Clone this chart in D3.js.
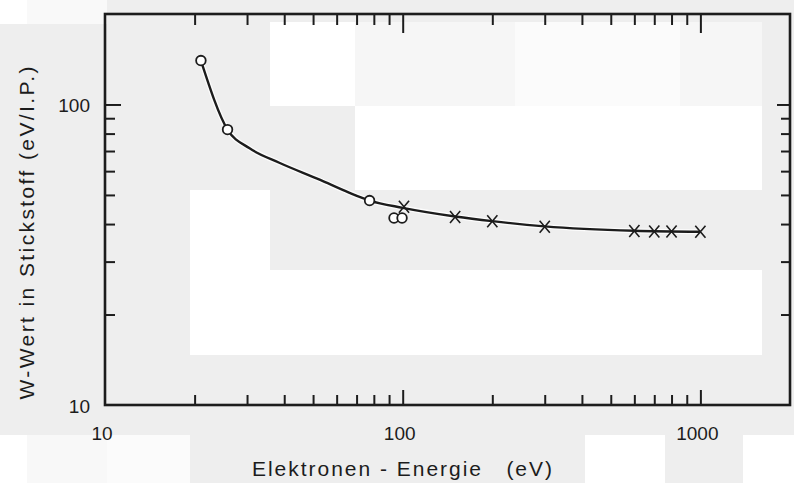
<!DOCTYPE html>
<html>
<head>
<meta charset="utf-8">
<script src="https://cdn.jsdelivr.net/npm/d3@7"></script>
<style>
  html, body { margin: 0; padding: 0; background: #eeeeee; }
  svg { display: block; }
  text { font-family: "Liberation Sans Narrow", "Liberation Sans", Arial, sans-serif; fill: #1c1c1c; }
</style>
</head>
<body>
<svg id="chart" width="794" height="483"></svg>
<script>
// Measured W-values of nitrogen versus electron energy
const circleEnergy = [21, 25.8, 77.4, 93.5, 99.5];
const circleW      = [140, 82.5, 47.9, 41.9, 41.9];

const crossEnergy = [101, 150, 200, 300, 600, 700, 800, 1000];
const crossW      = [45.7, 42.2, 40.9, 39.2, 37.9, 37.8, 37.8, 37.7];

// Smooth fitted curve drawn through the measurements
const curveEnergy = [21, 25.8, 30.6, 38.5, 52.6, 66, 77.4, 100, 150, 200, 300, 600, 1000];
const curveW      = [140, 82.5, 71.5, 64.0, 56.2, 50.9, 47.9, 45.3, 42.4, 40.9, 39.3, 38.0, 37.7];

const xTickLabels = [10, 100, 1000];
const yTickLabels = [10, 100];
const xMinorTicks = [20, 30, 40, 50, 60, 70, 80, 90, 200, 300, 400, 500, 600, 700, 800, 900];
const yMinorTicks = [20, 30, 40, 50, 60, 70, 80, 90];

const xTitle = "Elektronen - Energie   (eV)";
const yTitle = "W-Wert in Stickstoff (eV/I.P.)";

const svg = d3.select("#chart");
const W = 794, H = 483;
const plotLeft = 105, plotRight = 790, plotTop = 14, plotBottom = 405;

const x = d3.scaleLog().domain([10, 2000]).range([plotLeft, plotRight]);
const y = d3.scaleLog().domain([10, 200]).range([plotBottom, plotTop]);

// Paper tone of the scanned page: light grey with paler patches
const paper = svg.append("g");
paper.append("rect").attr("width", W).attr("height", H).attr("fill", "#eeeeee");
const patches = [
  [0, 0, 27, 24, "#ffffff"], [27, 0, 80, 24, "#f9f9f9"],
  [270, 22, 85, 84, "#ffffff"], [355, 22, 160, 84, "#f6f6f6"],
  [515, 22, 165, 84, "#fbfbfb"], [680, 22, 82, 84, "#f6f6f6"],
  [355, 106, 407, 84, "#ffffff"],
  [190, 190, 80, 165, "#ffffff"],
  [270, 270, 492, 85, "#ffffff"],
  [0, 435, 27, 48, "#ffffff"], [27, 435, 80, 48, "#f8f8f8"], [107, 435, 83, 48, "#fbfbfb"],
  [585, 435, 80, 48, "#ffffff"], [743, 435, 51, 48, "#ffffff"]
];
paper.selectAll("rect.p").data(patches).join("rect")
  .attr("class", "p")
  .attr("x", d => d[0]).attr("y", d => d[1])
  .attr("width", d => d[2]).attr("height", d => d[3])
  .attr("fill", d => d[4]);

const ink = "#1c1c1c";

// Inward ticks on all four sides
function tickAxis(axis, transform) {
  const g = svg.append("g").attr("transform", transform).call(axis);
  g.select(".domain").remove();
  g.selectAll(".tick line").attr("stroke", ink).attr("stroke-width", 2);
  g.selectAll(".tick text").remove();
  return g;
}
tickAxis(d3.axisBottom(x).tickValues(xMinorTicks).tickSize(-10).tickFormat(""), `translate(0,${plotBottom})`);
tickAxis(d3.axisBottom(x).tickValues([100, 1000]).tickSize(-15).tickFormat(""), `translate(0,${plotBottom})`);
tickAxis(d3.axisTop(x).tickValues(xMinorTicks).tickSize(-11).tickFormat(""), `translate(0,${plotTop})`);
tickAxis(d3.axisTop(x).tickValues([100, 1000]).tickSize(-19).tickFormat(""), `translate(0,${plotTop})`);
tickAxis(d3.axisLeft(y).tickValues(yMinorTicks).tickSize(-10).tickFormat(""), `translate(${plotLeft},0)`);
tickAxis(d3.axisLeft(y).tickValues([100]).tickSize(-16).tickFormat(""), `translate(${plotLeft},0)`);
tickAxis(d3.axisRight(y).tickValues(yMinorTicks).tickSize(-9).tickFormat(""), `translate(${plotRight},0)`);
tickAxis(d3.axisRight(y).tickValues([100]).tickSize(-13).tickFormat(""), `translate(${plotRight},0)`);

// Plot frame
svg.append("rect")
  .attr("x", plotLeft).attr("y", plotTop)
  .attr("width", plotRight - plotLeft).attr("height", plotBottom - plotTop)
  .attr("fill", "none").attr("stroke", ink).attr("stroke-width", 2.6);

// Tick labels
svg.append("g").selectAll("text").data(xTickLabels).join("text")
  .attr("x", d => x(d) - 3).attr("y", 440)
  .attr("text-anchor", "middle").attr("font-size", 19)
  .text(d => d);
svg.append("g").selectAll("text").data(yTickLabels).join("text")
  .attr("x", 90).attr("y", d => y(d) + 8)
  .attr("text-anchor", "end").attr("font-size", 19)
  .text(d => d);

// Axis titles
svg.append("text")
  .attr("x", 252).attr("y", 476)
  .attr("font-size", 21)
  .attr("textLength", 300).attr("lengthAdjust", "spacing")
  .style("white-space", "pre")
  .text(xTitle);
svg.append("text")
  .attr("transform", "translate(34,233) rotate(-90)")
  .attr("text-anchor", "middle")
  .attr("font-size", 21)
  .attr("textLength", 333).attr("lengthAdjust", "spacing")
  .text(yTitle);

// Fitted curve
const curvePts = curveEnergy.map((e, i) => [x(e), y(curveW[i])]);
const line = d3.line().curve(d3.curveMonotoneX);
svg.append("path").attr("d", line(curvePts))
  .attr("fill", "none").attr("stroke", "#ffffff").attr("stroke-width", 5).attr("opacity", 0.8);
svg.append("path").attr("d", line(curvePts))
  .attr("fill", "none").attr("stroke", ink).attr("stroke-width", 2.4);

// Open circles
const circles = circleEnergy.map((e, i) => ({ e, w: circleW[i] }));
svg.append("g").selectAll("circle").data(circles).join("circle")
  .attr("cx", d => x(d.e)).attr("cy", d => y(d.w)).attr("r", 4.8)
  .attr("fill", "#ffffff").attr("stroke", ink).attr("stroke-width", 1.8);

// Crosses
const crosses = crossEnergy.map((e, i) => ({ e, w: crossW[i] }));
const s = 6;
svg.append("g").selectAll("path").data(crosses).join("path")
  .attr("transform", d => `translate(${x(d.e)},${y(d.w)})`)
  .attr("d", `M${-s * 0.85},${-s}L${s * 0.85},${s}M${s * 0.85},${-s}L${-s * 0.85},${s}`)
  .attr("fill", "none").attr("stroke", ink).attr("stroke-width", 1.6);
</script>
</body>
</html>
